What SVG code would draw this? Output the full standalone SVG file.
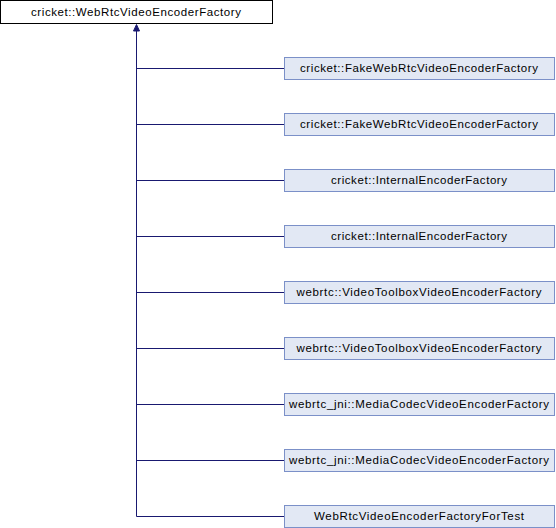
<svg xmlns="http://www.w3.org/2000/svg" width="556" height="528" viewBox="0 0 556 528">
<style>
.base rect{fill:#ffffff;stroke:#000000;stroke-width:1}
.child rect{fill:#E2E8F4;stroke:#7B90C8;stroke-width:1}
text{font-family:"Liberation Sans",Arial,sans-serif;font-size:11.5px;fill:#000000;text-anchor:middle}
.edges path{fill:none;stroke:#191970;stroke-width:1}
.edges path.head{fill:#191970}
</style>
<g id="node_base" class="base"><rect x="0.5" y="0.5" width="272" height="23"/><text x="136" y="15.5" textLength="210" lengthAdjust="spacing">cricket::WebRtcVideoEncoderFactory</text></g>
<g class="edges" id="connectors">
<path d="M136.5,516.5 V28"/>
<path class="head" d="M136.5,24.5 L133.5,31 L139.5,31 Z"/>
<path d="M136.5,68.5 H284"/>
<path d="M136.5,124.5 H284"/>
<path d="M136.5,180.5 H284"/>
<path d="M136.5,236.5 H284"/>
<path d="M136.5,292.5 H284"/>
<path d="M136.5,348.5 H284"/>
<path d="M136.5,404.5 H284"/>
<path d="M136.5,460.5 H284"/>
<path d="M136.5,516.5 H284"/>
</g>
<g id="node1" class="child"><rect x="284.5" y="57.5" width="270" height="22"/><text x="419" y="72" textLength="238" lengthAdjust="spacing">cricket::FakeWebRtcVideoEncoderFactory</text></g>
<g id="node2" class="child"><rect x="284.5" y="113.5" width="270" height="22"/><text x="419" y="128" textLength="238" lengthAdjust="spacing">cricket::FakeWebRtcVideoEncoderFactory</text></g>
<g id="node3" class="child"><rect x="284.5" y="169.5" width="270" height="22"/><text x="419" y="184" textLength="176" lengthAdjust="spacing">cricket::InternalEncoderFactory</text></g>
<g id="node4" class="child"><rect x="284.5" y="225.5" width="270" height="22"/><text x="419" y="240" textLength="176" lengthAdjust="spacing">cricket::InternalEncoderFactory</text></g>
<g id="node5" class="child"><rect x="284.5" y="281.5" width="270" height="22"/><text x="419" y="296" textLength="245" lengthAdjust="spacing">webrtc::VideoToolboxVideoEncoderFactory</text></g>
<g id="node6" class="child"><rect x="284.5" y="337.5" width="270" height="22"/><text x="419" y="352" textLength="245" lengthAdjust="spacing">webrtc::VideoToolboxVideoEncoderFactory</text></g>
<g id="node7" class="child"><rect x="284.5" y="393.5" width="270" height="22"/><text x="419" y="408" textLength="260" lengthAdjust="spacing">webrtc_jni::MediaCodecVideoEncoderFactory</text></g>
<g id="node8" class="child"><rect x="284.5" y="449.5" width="270" height="22"/><text x="419" y="464" textLength="260" lengthAdjust="spacing">webrtc_jni::MediaCodecVideoEncoderFactory</text></g>
<g id="node9" class="child"><rect x="284.5" y="505.5" width="270" height="22"/><text x="419" y="520" textLength="210" lengthAdjust="spacing">WebRtcVideoEncoderFactoryForTest</text></g>
</svg>
